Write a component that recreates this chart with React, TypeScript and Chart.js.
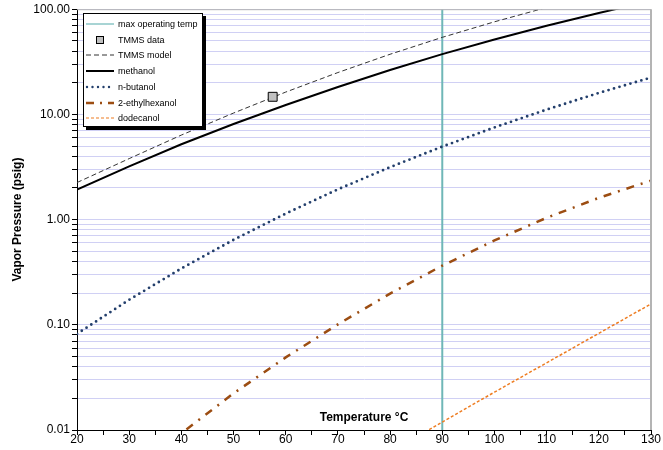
import React, { useEffect, useRef } from 'react';
import { Chart, registerables } from 'chart.js';

Chart.register(...registerables);

// ---- data ----
const temperatures = [20, 30, 40, 50, 60, 70, 80, 90, 100, 110, 120, 130];
const methanol = [1.93, 3.2, 5.2, 8.1, 12.3, 18.2, 26.4, 37.4, 51.5, 69.5, 92, 120];
const tmmsModel = [2.25, 3.8, 6.36, 10.3, 16.3, 25.0, 37.3, 54.0, 75.9, 103.8, 138, 178];
const nButanol = [0.082, 0.173, 0.343, 0.642, 1.14, 1.94, 3.15, 4.94, 7.52, 11.1, 16.0, 22.4];
const ethylhexanolTemps = [30, 40, 50, 60, 70, 80, 90, 100, 110, 120, 130];
const ethylhexanol = [0.0039, 0.0093, 0.0223, 0.049, 0.101, 0.198, 0.365, 0.634, 1.04, 1.61, 2.35];
const dodecanolTemps = [80, 90, 100, 110, 120, 130];
const dodecanol = [0.0062, 0.0119, 0.0229, 0.0435, 0.083, 0.158];
const tmmsDataTemps = [57.5];
const tmmsDataPressures = [14.7];
const maxOperatingTemp = [90, 90];
const maxOperatingPressure = [0.01, 100];

const xMin = 20;
const xMax = 130;
const xTickStep = 5;
const xLabelStep = 10;
const yMin = 0.01;
const yMax = 100;
const yDecades = [0.01, 0.1, 1, 10, 100];
const yDecadeLabels = ['0.01', '0.10', '1.00', '10.00', '100.00'];

const legendLabels = [
  'max operating temp',
  'TMMS data',
  'TMMS model',
  'methanol',
  'n-butanol',
  '2-ethylhexanol',
  'dodecanol',
];

const FONT = '"Liberation Sans", Arial, sans-serif';

const C_TEAL = '#6fb7b7';
const C_NAVY = '#233f6c';
const C_BROWN = '#9c4d12';
const C_ORANGE = '#ee7d22';

function pts(xs: number[], ys: number[]) {
  return xs.map((x, i) => ({ x, y: ys[i] }));
}

function buildYTicks(): number[] {
  const out: number[] = [];
  for (let d = 0; d < yDecades.length - 1; d++) {
    for (let m = 1; m <= 9; m++) {
      out.push(Number((m * yDecades[d]).toPrecision(3)));
    }
  }
  out.push(yDecades[yDecades.length - 1]);
  return out;
}

const decorPlugin = {
  id: 'decor',
  afterDraw(chart: any) {
    const { ctx, chartArea: a } = chart;
    ctx.save();
    // gray top & right frame
    ctx.strokeStyle = '#b4b4b4';
    ctx.lineWidth = 1;
    ctx.beginPath();
    ctx.moveTo(a.left, a.top + 0.5);
    ctx.lineTo(a.right, a.top + 0.5);
    ctx.stroke();
    ctx.lineWidth = 2;
    ctx.beginPath();
    ctx.moveTo(a.right, a.top);
    ctx.lineTo(a.right, a.bottom);
    ctx.stroke();
    // titles
    ctx.fillStyle = '#000';
    ctx.font = 'bold 12px ' + FONT;
    ctx.textAlign = 'center';
    ctx.textBaseline = 'middle';
    ctx.fillText('Temperature °C', (a.left + a.right) / 2, a.bottom - 12);
    ctx.translate(18, (a.top + a.bottom) / 2);
    ctx.rotate(-Math.PI / 2);
    ctx.fillText('Vapor Pressure (psig)', 0, 0);
    ctx.restore();
  },
};

function LegendSample({ idx }: { idx: number }) {
  const w = 30;
  const h = 12;
  const y = 6;
  switch (idx) {
    case 0:
      return (
        <svg width={w} height={h}>
          <line x1={1} y1={y} x2={29} y2={y} stroke={C_TEAL} strokeWidth={1.2} />
        </svg>
      );
    case 1:
      return (
        <svg width={w} height={h}>
          <rect x={11.5} y={2.5} width={7} height={7} fill="#c0c0c0" stroke="#000" strokeWidth={1} />
        </svg>
      );
    case 2:
      return (
        <svg width={w} height={h}>
          <line x1={1} y1={y} x2={29} y2={y} stroke="#333" strokeWidth={1} strokeDasharray="5 3" />
        </svg>
      );
    case 3:
      return (
        <svg width={w} height={h}>
          <line x1={1} y1={y} x2={29} y2={y} stroke="#000" strokeWidth={2} />
        </svg>
      );
    case 4:
      return (
        <svg width={w} height={h}>
          <line x1={2} y1={y} x2={29} y2={y} stroke={C_NAVY} strokeWidth={2.4} strokeDasharray="0 5.5" strokeLinecap="round" />
        </svg>
      );
    case 5:
      return (
        <svg width={w} height={h}>
          <line x1={1} y1={y} x2={29} y2={y} stroke={C_BROWN} strokeWidth={2.6} strokeDasharray="8 6 2 6" />
        </svg>
      );
    default:
      return (
        <svg width={w} height={h}>
          <line x1={1} y1={y} x2={29} y2={y} stroke={C_ORANGE} strokeWidth={1.2} strokeDasharray="3 2" />
        </svg>
      );
  }
}

export default function App() {
  const canvasRef = useRef<HTMLCanvasElement | null>(null);

  useEffect(() => {
    if (!canvasRef.current) return;
    const yTicks = buildYTicks();
    const chart = new Chart(canvasRef.current, {
      type: 'line',
      data: {
        datasets: [
          {
            label: legendLabels[1],
            data: pts(tmmsDataTemps, tmmsDataPressures),
            showLine: false,
            pointStyle: 'rect',
            pointRadius: 6.3,
            pointBackgroundColor: '#c0c0c0',
            pointBorderColor: '#000',
            pointBorderWidth: 1,
            borderColor: '#000',
            backgroundColor: '#c0c0c0',
          },
          {
            label: legendLabels[2],
            data: pts(temperatures, tmmsModel),
            borderColor: '#333',
            borderWidth: 1,
            borderDash: [5, 3],
            pointRadius: 0,
            clip: 0,
          },
          {
            label: legendLabels[3],
            data: pts(temperatures, methanol),
            borderColor: '#000',
            borderWidth: 2,
            pointRadius: 0,
            clip: 0,
          },
          {
            label: legendLabels[4],
            data: pts(temperatures, nButanol),
            borderColor: C_NAVY,
            borderWidth: 2.8,
            borderDash: [0, 5.7],
            borderCapStyle: 'round',
            pointRadius: 0,
            clip: 0,
          },
          {
            label: legendLabels[5],
            data: pts(ethylhexanolTemps, ethylhexanol),
            borderColor: C_BROWN,
            borderWidth: 2.5,
            borderDash: [8, 7, 2, 7],
            pointRadius: 0,
            clip: 0,
          },
          {
            label: legendLabels[6],
            data: pts(dodecanolTemps, dodecanol),
            borderColor: C_ORANGE,
            borderWidth: 1.5,
            borderDash: [3, 2],
            pointRadius: 0,
            clip: 0,
          },
          {
            label: legendLabels[0],
            data: pts(maxOperatingTemp, maxOperatingPressure),
            borderColor: C_TEAL,
            borderWidth: 2,
            pointRadius: 0,
            clip: 0,
          },
        ],
      },
      options: {
        animation: false,
        responsive: true,
        maintainAspectRatio: false,
        layout: { padding: { top: 9, right: 12, left: 0, bottom: 0 } },
        plugins: {
          legend: { display: false },
          tooltip: { enabled: false },
        },
        scales: {
          x: {
            type: 'linear',
            min: xMin,
            max: xMax,
            ticks: {
              stepSize: xTickStep,
              autoSkip: false,
              maxRotation: 0,
              padding: -3,
              color: '#000',
              font: { family: FONT, size: 12 },
              callback: (v: any) => (Number(v) % xLabelStep === 0 ? String(v) : ''),
            },
            grid: {
              drawOnChartArea: false,
              drawTicks: true,
              tickLength: 5,
              tickColor: '#000',
            },
            border: { color: '#000', width: 1 },
            afterFit: (s: any) => {
              s.height = 20;
            },
          },
          y: {
            type: 'logarithmic',
            min: yMin,
            max: yMax,
            afterBuildTicks: (s: any) => {
              s.ticks = yTicks.map((v) => ({ value: v }));
            },
            ticks: {
              autoSkip: false,
              padding: 2,
              color: '#000',
              font: { family: FONT, size: 12 },
              callback: (v: any) => {
                const i = yDecades.findIndex((d) => Math.abs(d - Number(v)) < d * 1e-6);
                return i >= 0 ? yDecadeLabels[i] : '';
              },
            },
            grid: {
              color: 'rgb(208,208,244)',
              lineWidth: 1,
              drawTicks: true,
              tickLength: 5,
              tickColor: '#000',
            },
            border: { color: '#000', width: 1 },
            afterFit: (s: any) => {
              s.width = 77;
            },
          },
        },
      },
      plugins: [decorPlugin],
    });
    return () => chart.destroy();
  }, []);

  return (
    <div style={{ position: 'absolute', left: 0, top: 0, width: 663, height: 450, background: '#fff' }}>
      <canvas ref={canvasRef} />
      <div
        style={{
          position: 'absolute',
          left: 83,
          top: 13,
          width: 118,
          height: 112,
          background: '#fff',
          border: '1px solid #000',
          boxShadow: '3px 3px 0 #000',
          fontFamily: FONT,
          fontSize: 9,
          color: '#000',
        }}
      >
        {legendLabels.map((lab, i) => (
          <div
            key={lab}
            style={{
              position: 'absolute',
              left: 1,
              top: 4 + i * 15.7,
              height: 12,
              display: 'flex',
              alignItems: 'center',
              whiteSpace: 'nowrap',
            }}
          >
            <LegendSample idx={i} />
            <span style={{ marginLeft: 3, lineHeight: '12px' }}>{lab}</span>
          </div>
        ))}
      </div>
    </div>
  );
}
